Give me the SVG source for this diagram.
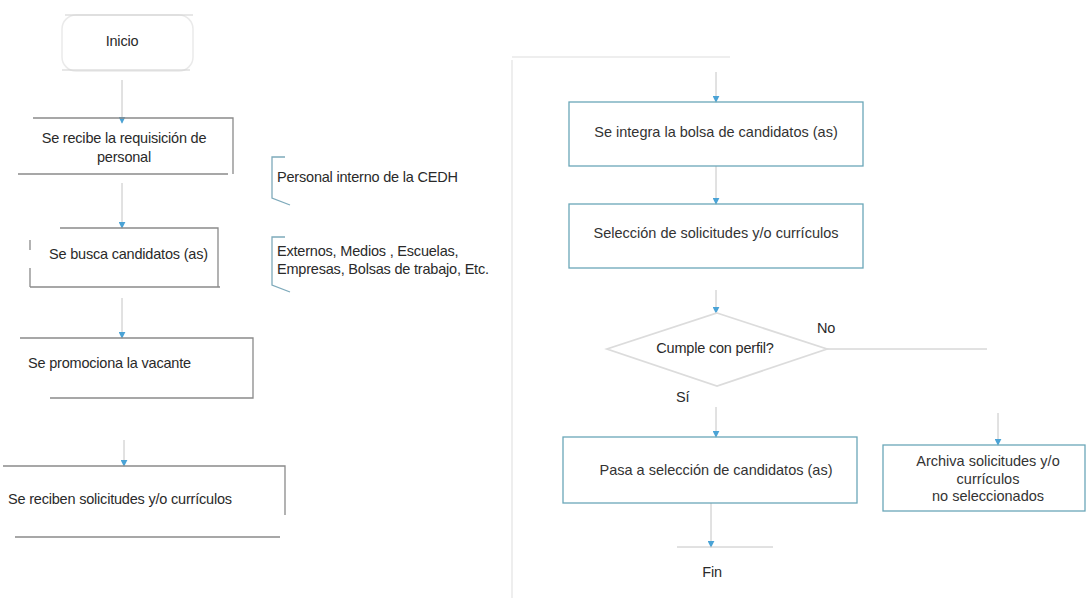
<svg xmlns="http://www.w3.org/2000/svg" width="1086" height="598" viewBox="0 0 1086 598">
<style>
text{font-family:"Liberation Sans",Arial,sans-serif;font-size:14.5px;fill:#333}
.l{fill:#2a2a2a;letter-spacing:-0.2px}
.c{text-anchor:middle}
.gb{fill:none;stroke:#8a8a8a;stroke-width:1.3}
.bb{fill:none;stroke:#6aa7b8;stroke-width:1.3}
.br{fill:none;stroke:#7eaabb;stroke-width:1.3}
.cn{fill:none;stroke:#c4c4c4;stroke-width:1}
.faint{fill:none;stroke:#eeeeee;stroke-width:2}
</style>
<defs>
<marker id="ah" viewBox="0 0 10 10" refX="9" refY="5" markerWidth="7" markerHeight="7" orient="auto" markerUnits="userSpaceOnUse">
<path d="M0,0 L10,5 L0,10 z" fill="#4aa3d6"/>
</marker>
</defs>
<rect width="1086" height="598" fill="#ffffff"/>
<path class="faint" d="M512,60 V598 M512,57 H730"/>
<g id="connectors">
<path class="cn" d="M122,80 V123" marker-end="url(#ah)"/>
<path class="cn" d="M122,183 V228" marker-end="url(#ah)"/>
<path class="cn" d="M122,298 V338" marker-end="url(#ah)"/>
<path class="cn" d="M124,440 V466" marker-end="url(#ah)"/>
<path class="cn" d="M716,72 V102" marker-end="url(#ah)"/>
<path class="cn" d="M716,166 V204" marker-end="url(#ah)"/>
<path class="cn" d="M716,290 V313" marker-end="url(#ah)"/>
<path class="cn" d="M716,407 V437" marker-end="url(#ah)"/>
<path class="cn" d="M827,349 H987" stroke="#e0e0e0"/>
<path class="cn" d="M998,413 V445" marker-end="url(#ah)"/>
<path class="cn" d="M711,503 V547" marker-end="url(#ah)"/>
<path class="cn" d="M677,547 H773"/>
</g>
<g id="n-inicio">
<rect x="62" y="15" width="131" height="56" rx="14" fill="none" stroke="#eaeaea" stroke-width="1.5"/>
<path d="M65,15 H193 M62,70 H190" stroke="#d0d0d0" stroke-width="1.2" fill="none"/>
<text class="l c" x="122" y="46">Inicio</text>
</g>
<g id="n-requisicion">
<path class="gb" d="M33,118 H233 V174 M18,174 H228"/>
<text class="l c" x="124" y="143">Se recibe la requisición de</text>
<text class="l c" x="124" y="162">personal</text>
</g>
<g id="n-interno">
<path class="br" d="M285,157 H272 V198 L290,205"/>
<text class="l" x="277" y="182">Personal interno de la CEDH</text>
</g>
<g id="n-busca">
<path class="gb" d="M60,228 H218 V287 M30,287 H220 M30,240 V250 M30,268 V287"/>
<text class="l" x="49" y="259">Se busca candidatos (as)</text>
</g>
<g id="n-externos">
<path class="br" d="M285,237 H272 V285 L290,292"/>
<text class="l" x="277" y="256">Externos, Medios , Escuelas,</text>
<text class="l" x="277" y="274">Empresas, Bolsas de trabajo, Etc.</text>
</g>
<g id="n-promociona">
<path class="gb" d="M20,338 H253 V398 H50"/>
<text class="l" x="28" y="368">Se promociona la vacante</text>
</g>
<g id="n-reciben">
<path class="gb" d="M3,466 H285 V515 M15,537 H280"/>
<text class="l" x="8" y="504">Se reciben solicitudes y/o currículos</text>
</g>
<g id="n-integra">
<rect class="bb" x="569" y="102" width="294" height="64"/>
<text class="c" x="716" y="137">Se integra la bolsa de candidatos (as)</text>
</g>
<g id="n-seleccion">
<rect class="bb" x="569" y="204" width="294" height="64"/>
<text class="c" x="716" y="238">Selección de solicitudes y/o currículos</text>
</g>
<g id="n-cumple">
<path d="M717,313 L827,349 L717,386 L607,349 Z" fill="none" stroke="#dcdcdc" stroke-width="1.8"/>
<text class="l c" x="715" y="353">Cumple con perfil?</text>
<text class="l" x="817" y="333">No</text>
<text class="l" x="676" y="402">Sí</text>
</g>
<g id="n-pasa">
<rect class="bb" x="563" y="437" width="294" height="66"/>
<text class="c" x="716" y="475">Pasa a selección de candidatos (as)</text>
</g>
<g id="n-archiva">
<rect class="bb" x="883" y="445" width="202" height="66"/>
<text class="c" x="988" y="466">Archiva solicitudes y/o</text>
<text class="c" x="988" y="484">currículos</text>
<text class="c" x="988" y="501">no seleccionados</text>
</g>
<g id="n-fin">
<text class="l c" x="712" y="577">Fin</text>
</g>
</svg>
